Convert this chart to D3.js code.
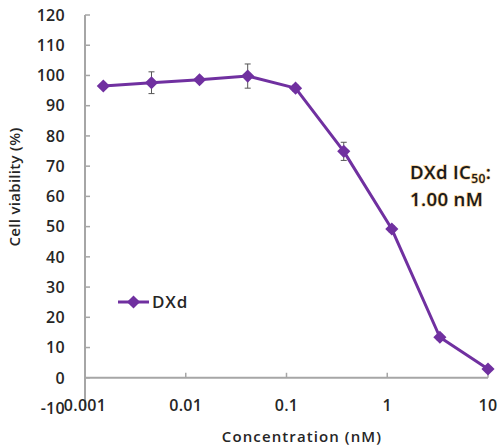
<!DOCTYPE html>
<html>
<head>
<meta charset="utf-8">
<script src="https://cdn.jsdelivr.net/npm/d3@7"></script>
<style>
  html, body { margin: 0; padding: 0; background: #fff; }
  svg { display: block; }
  text { font-family: "Open Sans", "Noto Sans", sans-serif; }
</style>
</head>
<body>
<svg id="chart" width="503" height="448"></svg>
<script>
// Dose–response of DXd: concentration (nM) vs cell viability (%)
const concentrations = [0.00152, 0.00457, 0.0137, 0.0412, 0.123, 0.370, 1.11, 3.33, 10];
const viability      = [96.5, 97.6, 98.6, 99.8, 95.8, 74.9, 49.2, 13.4, 2.9];
const viabilityErr   = [0.8, 3.6, 0.8, 4.0, 1.0, 3.0, 1.0, 1.0, 0.8];
const xTicks = [0.001, 0.01, 0.1, 1, 10];
const xTickLabels = ["0.001", "0.01", "0.1", "1", "10"];
const yTicks = [-10, 0, 10, 20, 30, 40, 50, 60, 70, 80, 90, 100, 110, 120];
const seriesName = "DXd";
const ic50Label = "1.00 nM";

const purple = "#7030a0";
const axisGray = "#a6a6a6";
const textColor = "#262626";

const svg = d3.select("#chart");

const x = d3.scaleLog().domain([0.001, 10]).range([85, 488]);
const y = d3.scaleLinear().domain([-10, 120]).range([408, 15]);

// y axis (vertical line with inward ticks)
const yAxis = svg.append("g");
yAxis.append("line")
  .attr("x1", x(0.001)).attr("x2", x(0.001))
  .attr("y1", y(120)).attr("y2", y(-10))
  .attr("stroke", axisGray).attr("stroke-width", 2);
yAxis.selectAll("line.tick").data(yTicks.filter(d => d > -10)).join("line")
  .attr("class", "tick")
  .attr("x1", x(0.001)).attr("x2", x(0.001) + 5)
  .attr("y1", d => y(d)).attr("y2", d => y(d))
  .attr("stroke", axisGray).attr("stroke-width", 1.5);
yAxis.selectAll("text").data(yTicks).join("text")
  .attr("x", 65).attr("y", d => y(d))
  .attr("dy", "0.36em")
  .attr("text-anchor", "end")
  .attr("font-size", 16).attr("font-weight", 600)
  .attr("letter-spacing", 0.3)
  .attr("fill", textColor)
  .text(d => d);

// x axis drawn at y = 0
const xAxis = svg.append("g");
xAxis.append("line")
  .attr("x1", x(0.001)).attr("x2", x(10))
  .attr("y1", y(0)).attr("y2", y(0))
  .attr("stroke", axisGray).attr("stroke-width", 2);
xAxis.selectAll("line.tick").data(xTicks.slice(1)).join("line")
  .attr("class", "tick")
  .attr("x1", d => x(d)).attr("x2", d => x(d))
  .attr("y1", y(0)).attr("y2", y(0) - 5)
  .attr("stroke", axisGray).attr("stroke-width", 1.5);
xAxis.selectAll("text").data(xTicks).join("text")
  .attr("x", d => x(d)).attr("y", 411)
  .attr("text-anchor", "middle")
  .attr("font-size", 16).attr("font-weight", 600)
  .attr("letter-spacing", 0.3)
  .attr("fill", textColor)
  .text((d, i) => xTickLabels[i]);

// axis titles
svg.append("text")
  .attr("x", 302).attr("y", 442)
  .attr("text-anchor", "middle")
  .attr("font-size", 15).attr("font-weight", 600)
  .attr("letter-spacing", 1.1)
  .attr("fill", textColor)
  .text("Concentration (nM)");
svg.append("text")
  .attr("transform", "translate(20,187) rotate(-90)")
  .attr("text-anchor", "middle")
  .attr("font-size", 15).attr("font-weight", 600)
  .attr("letter-spacing", 0.3)
  .attr("fill", textColor)
  .text("Cell viability (%)");

// series
const pts = concentrations.map((c, i) => ({ c, v: viability[i], e: viabilityErr[i] }));

svg.append("path")
  .datum(pts)
  .attr("fill", "none")
  .attr("stroke", purple).attr("stroke-width", 3)
  .attr("stroke-linejoin", "round")
  .attr("d", d3.line().x(d => x(d.c)).y(d => y(d.v)));

const err = svg.append("g").attr("stroke", "#555").attr("stroke-width", 1);
pts.forEach(d => {
  const cx = x(d.c), top = y(d.v + d.e), bot = y(d.v - d.e);
  err.append("line").attr("x1", cx).attr("x2", cx).attr("y1", top).attr("y2", bot);
  err.append("line").attr("x1", cx - 3).attr("x2", cx + 3).attr("y1", top).attr("y2", top);
  err.append("line").attr("x1", cx - 3).attr("x2", cx + 3).attr("y1", bot).attr("y2", bot);
});

const diamond = d3.symbol().type(d3.symbolDiamond2).size(110);
svg.selectAll("path.marker").data(pts).join("path")
  .attr("class", "marker")
  .attr("transform", d => `translate(${x(d.c)},${y(d.v)})`)
  .attr("d", diamond)
  .attr("fill", purple);

// legend
const lg = svg.append("g");
lg.append("line").attr("x1", 118).attr("x2", 149).attr("y1", 302).attr("y2", 302)
  .attr("stroke", purple).attr("stroke-width", 3);
lg.append("path").attr("transform", "translate(133.5,302)").attr("d", diamond).attr("fill", purple);
lg.append("text").attr("x", 152).attr("y", 302).attr("dy", "0.36em")
  .attr("font-size", 17).attr("font-weight", 600).attr("letter-spacing", 0.8)
  .attr("fill", textColor)
  .text(seriesName);

// IC50 annotation
const ann = svg.append("g")
  .attr("font-size", 18.5).attr("font-weight", 600)
  .attr("letter-spacing", 0.4)
  .attr("fill", "#1a1a1a")
  .attr("stroke", "#f2a93b").attr("stroke-width", 1.3).attr("stroke-opacity", 0.55)
  .style("paint-order", "stroke");
const line1 = ann.append("text").attr("x", 410).attr("y", 179);
line1.append("tspan").text("DXd IC");
line1.append("tspan").attr("font-size", 12).attr("dy", 4).text("50");
line1.append("tspan").attr("dy", -4).text(":");
ann.append("text").attr("x", 410).attr("y", 206).text(ic50Label);
</script>
</body>
</html>
